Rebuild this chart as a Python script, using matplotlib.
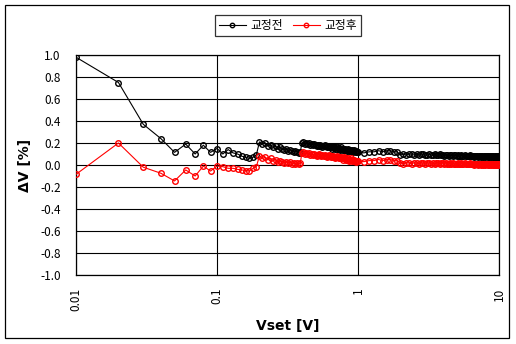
import numpy as np
import matplotlib
matplotlib.use("Agg")
import matplotlib.pyplot as plt
from matplotlib.patches import Rectangle
from matplotlib.ticker import FixedLocator, FixedFormatter, NullLocator

plt.rcParams['font.family'] = ['Noto Sans CJK KR', 'DejaVu Sans']

# Set-voltage steps: 0.01 V steps up to 0.99 V, 0.1 V steps from 1 V to 10 V
vset_low = np.round(np.arange(0.01, 0.995, 0.01), 2)
vset_high = np.round(np.arange(1.0, 10.05, 0.1), 1)
vset = np.concatenate([vset_low, vset_high])

# Deviation before correction (교정전), %
dv_before_low = [0.98, 0.75, 0.37, 0.24, 0.115, 0.19, 0.10, 0.18, 0.115, 0.15,
                 0.10, 0.14, 0.11, 0.10, 0.08, 0.07, 0.06, 0.07, 0.09,
                 0.21, 0.19, 0.20, 0.17, 0.18, 0.16, 0.17, 0.15, 0.16, 0.15,
                 0.14, 0.15, 0.13, 0.14, 0.13, 0.12, 0.13, 0.12, 0.11, 0.12]
dv_before_mid = [0.20, 0.21, 0.19, 0.20, 0.19, 0.20, 0.18, 0.19, 0.18, 0.19,
                 0.18, 0.17, 0.18, 0.17, 0.18, 0.17, 0.16, 0.17, 0.18, 0.17,
                 0.16, 0.17, 0.16, 0.17, 0.16, 0.15, 0.16, 0.17, 0.16, 0.15,
                 0.16, 0.15, 0.16, 0.15, 0.14, 0.15, 0.16, 0.15, 0.14, 0.15,
                 0.14, 0.15, 0.14, 0.13, 0.14, 0.15, 0.14, 0.13, 0.14, 0.13,
                 0.14, 0.13, 0.12, 0.13, 0.14, 0.13, 0.12, 0.13, 0.12, 0.12]
dv_before_high = [0.12, 0.11, 0.12, 0.12, 0.13, 0.12, 0.13, 0.13, 0.12, 0.12,
                  0.09, 0.10, 0.09, 0.10, 0.10, 0.09, 0.10, 0.09, 0.10, 0.10,
                  0.09, 0.09, 0.10, 0.09, 0.09, 0.10, 0.09, 0.09, 0.10, 0.09,
                  0.09, 0.08, 0.09, 0.09, 0.08, 0.09, 0.09, 0.08, 0.09, 0.09,
                  0.08, 0.09, 0.08, 0.08, 0.09, 0.08, 0.08, 0.09, 0.08, 0.08,
                  0.08, 0.08, 0.09, 0.08, 0.08, 0.08, 0.07, 0.08, 0.08, 0.08,
                  0.08, 0.07, 0.08, 0.08, 0.07, 0.08, 0.08, 0.07, 0.08, 0.08,
                  0.07, 0.08, 0.08, 0.07, 0.08, 0.07, 0.08, 0.08, 0.07, 0.08,
                  0.07, 0.08, 0.07, 0.08, 0.07, 0.08, 0.07, 0.07, 0.08, 0.07, 0.08]

# Deviation after correction (교정후), %
dv_after_low = [-0.085, 0.20, -0.02, -0.075, -0.145, -0.045, -0.10, -0.01, -0.055, -0.01,
                -0.015, -0.03, -0.03, -0.04, -0.045, -0.05, -0.055, -0.03, -0.015,
                0.08, 0.06, 0.07, 0.05, 0.06, 0.04, 0.05, 0.03, 0.04, 0.03,
                0.02, 0.03, 0.02, 0.03, 0.01, 0.02, 0.01, 0.02, 0.01, 0.02]
dv_after_mid = [0.11, 0.12, 0.10, 0.11, 0.10, 0.11, 0.09, 0.10, 0.09, 0.10,
                0.09, 0.08, 0.09, 0.10, 0.09, 0.08, 0.09, 0.08, 0.09, 0.08,
                0.07, 0.08, 0.09, 0.08, 0.07, 0.08, 0.07, 0.08, 0.07, 0.06,
                0.07, 0.08, 0.07, 0.06, 0.07, 0.06, 0.07, 0.06, 0.05, 0.06,
                0.07, 0.06, 0.05, 0.06, 0.05, 0.06, 0.05, 0.04, 0.05, 0.06,
                0.05, 0.04, 0.05, 0.04, 0.05, 0.04, 0.03, 0.04, 0.04, 0.04]
dv_after_high = [0.04, 0.03, 0.04, 0.04, 0.05, 0.04, 0.05, 0.05, 0.04, 0.04,
                 0.02, 0.01, 0.02, 0.02, 0.01, 0.02, 0.02, 0.01, 0.02, 0.02,
                 0.01, 0.02, 0.02, 0.01, 0.02, 0.01, 0.02, 0.02, 0.01, 0.02,
                 0.02, 0.01, 0.02, 0.01, 0.01, 0.02, 0.01, 0.02, 0.01, 0.01,
                 0.01, 0.02, 0.01, 0.01, 0.02, 0.01, 0.01, 0.02, 0.01, 0.01,
                 0.01, 0.01, 0.02, 0.01, 0.01, 0.01, 0.00, 0.01, 0.01, 0.01,
                 0.01, 0.00, 0.01, 0.01, 0.00, 0.01, 0.01, 0.00, 0.01, 0.01,
                 0.00, 0.01, 0.01, 0.00, 0.01, 0.00, 0.01, 0.01, 0.00, 0.01,
                 0.00, 0.01, 0.00, 0.01, 0.00, 0.01, 0.00, 0.00, 0.01, 0.00, 0.01]

dv_before = dv_before_low + dv_before_mid + dv_before_high
dv_after = dv_after_low + dv_after_mid + dv_after_high

series_names = ['교정전', '교정후']
series_colors = ['black', 'red']

x_ticks = [0.01, 0.1, 1, 10]
x_tick_labels = ['0.01', '0.1', '1', '10']
y_ticks = [-1.0, -0.8, -0.6, -0.4, -0.2, 0.0, 0.2, 0.4, 0.6, 0.8, 1.0]

fig = plt.figure(figsize=(5.16, 3.44), dpi=100)
ax = fig.add_axes([76 / 516, 1 - 275 / 344, 423 / 516, 220 / 344])

for y, name, col in zip([dv_before, dv_after], series_names, series_colors):
    ax.plot(vset, y, color=col, lw=0.8, marker='o', markersize=4.0,
            markerfacecolor='none', markeredgecolor=col, markeredgewidth=1.0,
            label=name, zorder=3)

ax.set_xscale('log')
ax.set_xlim(0.01, 10)
ax.set_ylim(-1.0, 1.0)

ax.xaxis.set_major_locator(FixedLocator(x_ticks))
ax.xaxis.set_major_formatter(FixedFormatter(x_tick_labels))
ax.xaxis.set_minor_locator(NullLocator())
ax.set_yticks(y_ticks)
ax.set_yticklabels([f'{v:.1f}' for v in y_ticks])

ax.grid(True, which='major', color='black', lw=0.8)
ax.tick_params(axis='y', length=0, pad=11, labelsize=8.5)
ax.tick_params(axis='x', length=0, pad=9, labelsize=8.5, labelrotation=90)
for lbl in ax.get_xticklabels():
    lbl.set_verticalalignment('top')
for sp in ax.spines.values():
    sp.set_color('black')
    sp.set_linewidth(0.9)

ax.set_xlabel('Vset [V]', fontsize=10, fontweight='bold', labelpad=6,
              family=['DejaVu Sans'])
ax.set_ylabel('ΔV [%]', fontsize=10, fontweight='bold', labelpad=6,
              family=['DejaVu Sans'])

leg = fig.legend(loc='center', bbox_to_anchor=(288 / 516, 1 - 25.5 / 344), ncol=2,
                 fontsize=8.5, frameon=True, fancybox=False, edgecolor='black',
                 handlelength=2.3, handletextpad=0.4, columnspacing=0.8,
                 borderpad=0.35, borderaxespad=0, markerscale=0.8)
leg.get_frame().set_linewidth(0.9)

# outer border around the whole chart
fig.patches.append(Rectangle((5 / 516, 1 - 338 / 344), 504 / 516, 333 / 344,
                             transform=fig.transFigure, fill=False,
                             edgecolor='black', lw=0.9))

fig.savefig('out.png', dpi=100)
